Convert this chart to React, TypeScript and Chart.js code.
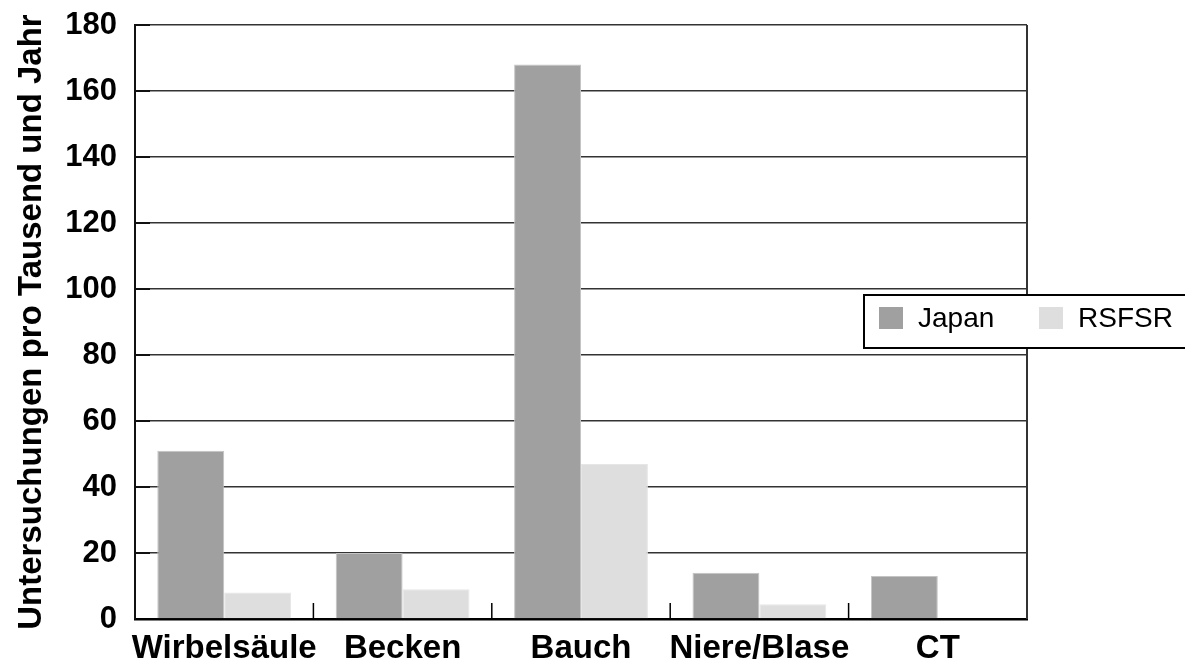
import React, { useEffect, useRef } from 'react';
import { Chart, registerables } from 'chart.js';

Chart.register(...registerables);

const categories = ['Wirbelsäule', 'Becken', 'Bauch', 'Niere/Blase', 'CT'];
const japanValues = [51, 20, 168, 14, 13];
const rsfsrValues = [8, 9, 47, 4.5, 0];
const seriesNames = ['Japan', 'RSFSR'];
const yAxisTitle = 'Untersuchungen pro Tausend und Jahr';
const yMin = 0;
const yMax = 180;
const yStep = 20;

const FONT = '"Liberation Sans", Arial, Helvetica, sans-serif';
const JAPAN_COLOR = '#a0a0a0';
const RSFSR_COLOR = '#dedede';

const framePlugin = {
  id: 'frameAndLegend',
  afterDraw(chart: any) {
    const { ctx, chartArea, scales } = chart;
    const x = scales.x;
    const y = scales.y;
    ctx.save();
    // right frame line
    ctx.strokeStyle = '#333';
    ctx.lineWidth = 2;
    ctx.beginPath();
    ctx.moveTo(chartArea.right, chartArea.top);
    ctx.lineTo(chartArea.right, chartArea.bottom);
    ctx.stroke();
    // inner category-boundary ticks on x axis
    ctx.strokeStyle = '#000';
    ctx.lineWidth = 1.5;
    for (let i = 1; i < categories.length; i++) {
      const px = (x.getPixelForValue(i - 1) + x.getPixelForValue(i)) / 2;
      ctx.beginPath();
      ctx.moveTo(px, chartArea.bottom);
      ctx.lineTo(px, chartArea.bottom - 16);
      ctx.stroke();
    }
    // inner ticks on y axis
    ctx.strokeStyle = '#111';
    ctx.lineWidth = 2;
    for (let v = yMin + yStep; v <= yMax; v += yStep) {
      const py = y.getPixelForValue(v);
      ctx.beginPath();
      ctx.moveTo(chartArea.left, py);
      ctx.lineTo(chartArea.left + 15, py);
      ctx.stroke();
    }
    // legend box
    const bx = 864;
    const by = 295;
    const bw = 340;
    const bh = 53;
    ctx.fillStyle = '#fff';
    ctx.fillRect(bx, by, bw, bh);
    ctx.strokeStyle = '#000';
    ctx.lineWidth = 2;
    ctx.strokeRect(bx, by, bw, bh);
    const colors = [JAPAN_COLOR, RSFSR_COLOR];
    const itemX = [879, 1039];
    ctx.font = `28px ${FONT}`;
    ctx.textBaseline = 'middle';
    ctx.textAlign = 'left';
    seriesNames.forEach((name, i) => {
      ctx.fillStyle = colors[i];
      ctx.fillRect(itemX[i], 307, 24, 22);
      ctx.fillStyle = '#000';
      ctx.fillText(name, itemX[i] + 39, 319);
    });
    ctx.restore();
  },
};

export default function App() {
  const canvasRef = useRef<HTMLCanvasElement | null>(null);

  useEffect(() => {
    const canvas = canvasRef.current;
    if (!canvas) return;
    const chart = new Chart(canvas, {
      type: 'bar',
      data: {
        labels: categories,
        datasets: [
          {
            label: seriesNames[0],
            data: japanValues,
            backgroundColor: JAPAN_COLOR,
            borderColor: '#c4c4c4',
            borderWidth: 1,
          },
          {
            label: seriesNames[1],
            data: rsfsrValues,
            backgroundColor: RSFSR_COLOR,
            borderColor: '#e6e6e6',
            borderWidth: 1,
          },
        ],
      },
      options: {
        responsive: false,
        animation: false,
        devicePixelRatio: 1,
        layout: { padding: { top: 25, right: 158, left: 0, bottom: 0 } },
        plugins: {
          legend: { display: false },
          tooltip: { enabled: false },
        },
        datasets: {
          bar: { categoryPercentage: 0.75, barPercentage: 1 },
        },
        scales: {
          x: {
            grid: { display: true, drawOnChartArea: false, drawTicks: false },
            border: { display: true, color: '#000', width: 2.5 },
            ticks: {
              color: '#000',
              padding: 10,
              font: { family: FONT, size: 33, weight: 'bold' },
              maxRotation: 0,
              autoSkip: false,
            },
            afterFit: (s: any) => {
              s.height = 45;
              s.paddingLeft = 0;
              s.paddingRight = 0;
            },
          },
          y: {
            min: yMin,
            max: yMax,
            grid: { color: '#333', lineWidth: 1.5, drawTicks: false },
            border: { display: true, color: '#111', width: 2 },
            ticks: {
              stepSize: yStep,
              color: '#000',
              padding: 18,
              font: { family: FONT, size: 31, weight: 'bold' },
            },
            title: {
              display: true,
              text: yAxisTitle,
              color: '#000',
              font: { family: FONT, size: 33, weight: 'bold' },
              padding: { top: 12, bottom: 0 },
            },
            afterFit: (s: any) => {
              s.width = 135;
              s.paddingTop = 0;
              s.paddingBottom = 0;
            },
          },
        },
      },
      plugins: [framePlugin],
    });
    return () => chart.destroy();
  }, []);

  return (
    <div style={{ position: 'absolute', left: 0, top: 0, width: 1185, height: 664, background: '#fff' }}>
      <canvas ref={canvasRef} width={1185} height={664} />
    </div>
  );
}
